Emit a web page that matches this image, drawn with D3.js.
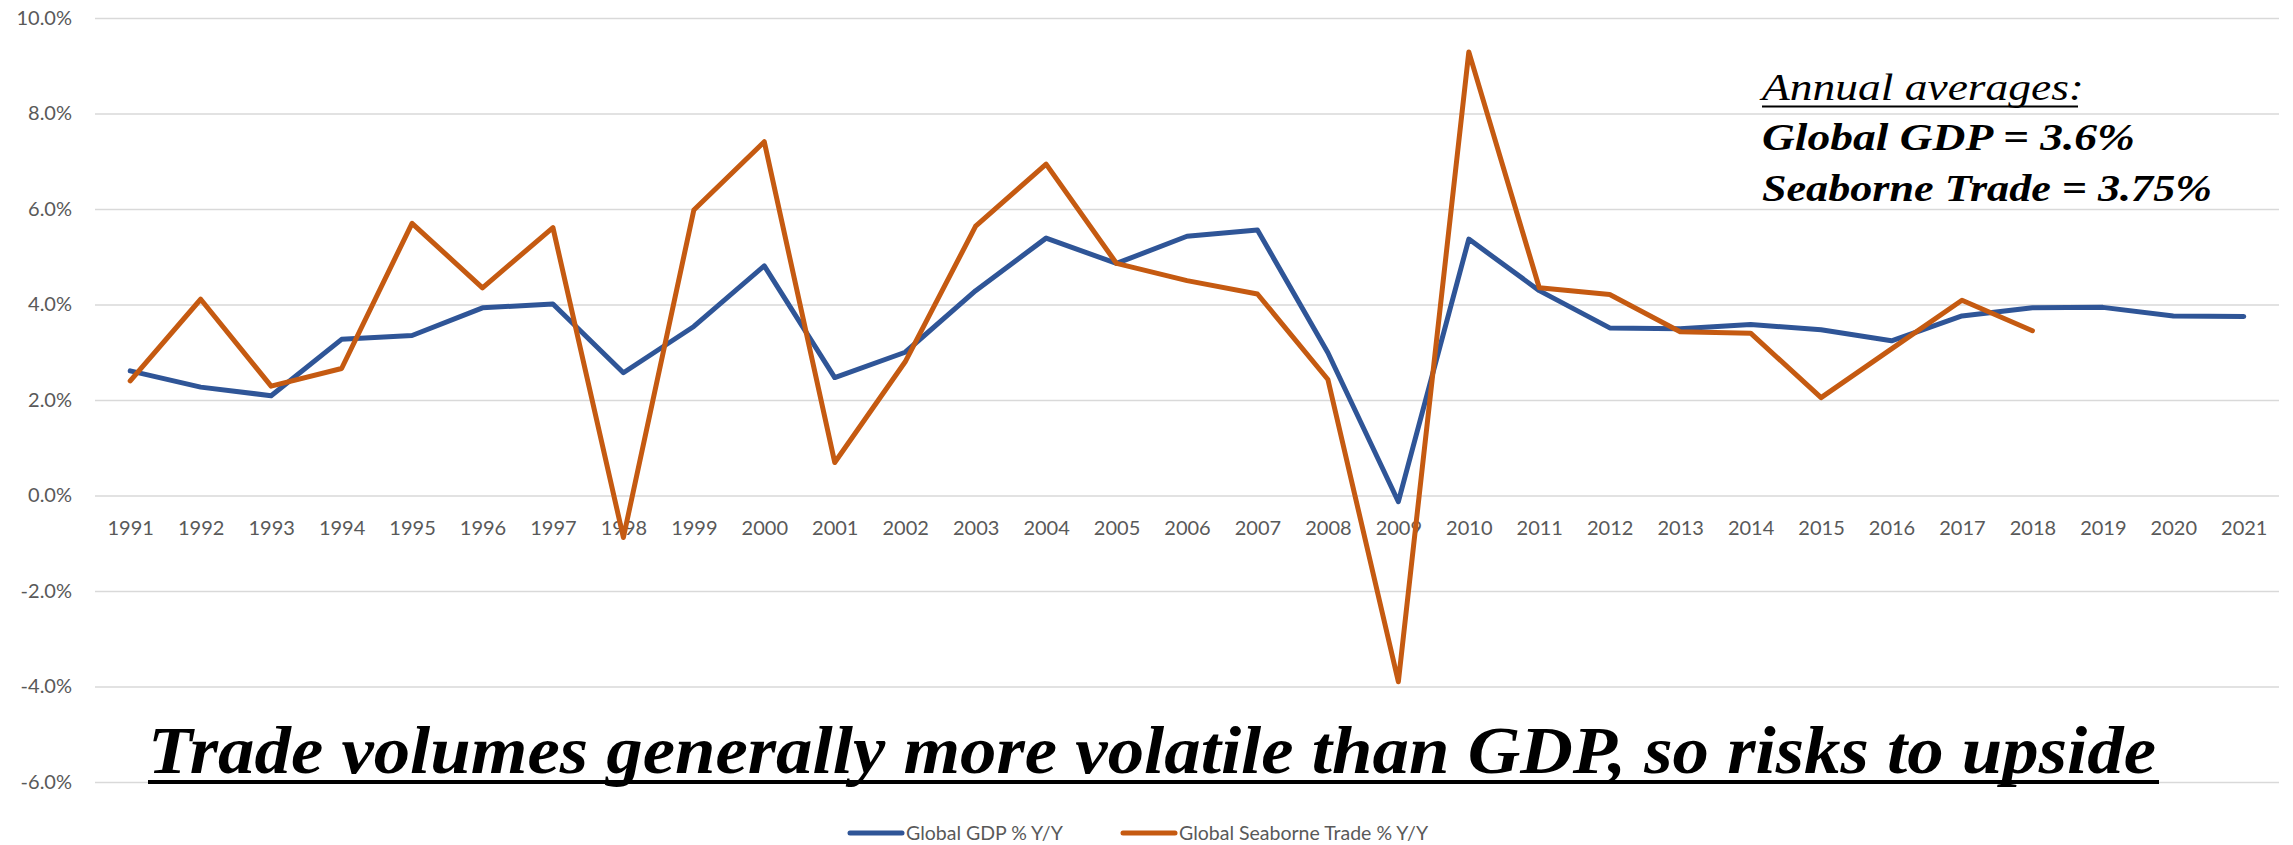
<!DOCTYPE html>
<html>
<head>
<meta charset="utf-8">
<script src="https://cdn.jsdelivr.net/npm/d3@7"></script>
<style>
	html, body { margin: 0; padding: 0; background: #fff; }
	svg { display: block; }
</style>
</head>
<body>
<div id="chart"></div>
<script>
// data (percent, year on year)
const years = d3.range(1991, 2022).map(String);
const gdp = [2.61, 2.27, 2.09, 3.27, 3.35, 3.93, 4.01, 2.57, 3.54, 4.81,
	2.47, 3.0, 4.29, 5.39, 4.86, 5.43, 5.56, 2.99, -0.13, 5.37,
	4.29, 3.51, 3.49, 3.58, 3.47, 3.24, 3.76, 3.93, 3.94, 3.76, 3.75];
const trade = [2.4, 4.11, 2.29, 2.66, 5.7, 4.35, 5.61, -0.88, 5.98, 7.41,
	0.69, 2.8, 5.64, 6.94, 4.86, 4.5, 4.22, 2.43, -3.9, 9.29,
	4.35, 4.21, 3.43, 3.4, 2.05, 3.07, 4.09, 3.45];
const yTicks = [-6, -4, -2, 0, 2, 4, 6, 8, 10];
const seriesNames = ["Global GDP % Y/Y", "Global Seaborne Trade % Y/Y"];
const seriesColors = ["#2F5597", "#C55A11"];
const noteLines = ["Annual averages:", "Global GDP = 3.6%", "Seaborne Trade = 3.75%"];
const headline = "Trade volumes generally more volatile than GDP, so risks to upside";

const width = 2293, height = 845;
const plot = { left: 95, right: 2279, top: 18, bottom: 782 };

const locale = d3.formatLocale({ decimal: ".", thousands: ",", grouping: [3], currency: ["$", ""], minus: "-" });
const pct = locale.format(".1%");

let svg = d3.select("#chart").append("svg")
	.attr("width", width)
	.attr("height", height);

let x = d3.scalePoint()
	.domain(years)
	.range([plot.left, plot.right])
	.padding(0.5);

let y = d3.scaleLinear()
	.domain([-6, 10])
	.range([plot.bottom, plot.top]);

// gridlines + y labels
let yAxis = svg.append("g")
	.attr("transform", `translate(${plot.left},0)`)
	.call(d3.axisLeft(y)
		.tickValues(yTicks)
		.tickSize(-(plot.right - plot.left))
		.tickPadding(23)
		.tickFormat(d => pct(d / 100)));
yAxis.select(".domain").remove();
yAxis.selectAll(".tick line").attr("stroke", "#D9D9D9").attr("stroke-width", 1.5);
yAxis.selectAll(".tick text")
	.attr("fill", "#595959")
	.style("font-family", "Lato, 'Open Sans', sans-serif")
	.style("font-size", "20px");

// category labels sit under the zero line
let xAxis = svg.append("g")
	.attr("transform", `translate(0,${y(0)})`)
	.call(d3.axisBottom(x).tickSize(0).tickPadding(25));
xAxis.select(".domain").remove();
xAxis.selectAll(".tick text")
	.attr("fill", "#595959")
	.style("font-family", "Lato, 'Open Sans', sans-serif")
	.style("font-size", "20px");

// series lines
let series = [gdp, trade].map((vals, i) => ({
	name: seriesNames[i],
	color: seriesColors[i],
	pts: vals.map((v, j) => [years[j], v])
}));

let line = d3.line()
	.x(d => x(d[0]))
	.y(d => y(d[1]));

svg.append("g").selectAll("path")
	.data(series)
	.join("path")
	.attr("fill", "none")
	.attr("stroke", d => d.color)
	.attr("stroke-width", 5)
	.attr("stroke-linejoin", "round")
	.attr("stroke-linecap", "round")
	.attr("d", d => line(d.pts));

// averages note, top right
let note = svg.append("g").attr("transform", "translate(1762,0)");
let noteBase = [100, 150, 201];
let noteLen = [322, 373, 450];
note.selectAll("text")
	.data(noteLines)
	.join("text")
	.attr("x", 0)
	.attr("y", (d, i) => noteBase[i])
	.attr("textLength", (d, i) => noteLen[i])
	.attr("lengthAdjust", "spacingAndGlyphs")
	.style("font-family", "'Liberation Serif', 'DejaVu Serif', serif")
	.style("font-style", "italic")
	.style("font-weight", (d, i) => i == 0 ? "normal" : "bold")
	.style("font-size", "38px")
	.attr("fill", "#000")
	.text(d => d);
note.append("line")
	.attr("x1", 0).attr("x2", 316)
	.attr("y1", 106.5).attr("y2", 106.5)
	.attr("stroke", "#000")
	.attr("stroke-width", 2);

// headline, underlined
svg.append("text")
	.attr("x", 148)
	.attr("y", 773)
	.attr("textLength", 2008)
	.attr("lengthAdjust", "spacingAndGlyphs")
	.style("font-family", "'Liberation Serif', 'DejaVu Serif', serif")
	.style("font-style", "italic")
	.style("font-weight", "bold")
	.style("font-size", "68px")
	.attr("fill", "#000")
	.text(headline);
svg.append("line")
	.attr("x1", 148).attr("x2", 2159)
	.attr("y1", 782).attr("y2", 782)
	.attr("stroke", "#000")
	.attr("stroke-width", 4);

// legend
let legendX = [848, 1121];
let legend = svg.append("g").selectAll("g")
	.data(series)
	.join("g")
	.attr("transform", (d, i) => `translate(${legendX[i]},833)`);
legend.append("line")
	.attr("x1", 2).attr("x2", 54)
	.attr("stroke", d => d.color)
	.attr("stroke-width", 5)
	.attr("stroke-linecap", "round");
legend.append("text")
	.attr("x", 58)
	.attr("dy", "0.35em")
	.attr("fill", "#595959")
	.style("font-family", "Lato, 'Open Sans', sans-serif")
	.style("font-size", "19.5px")
	.text(d => d.name);
</script>
</body>
</html>
